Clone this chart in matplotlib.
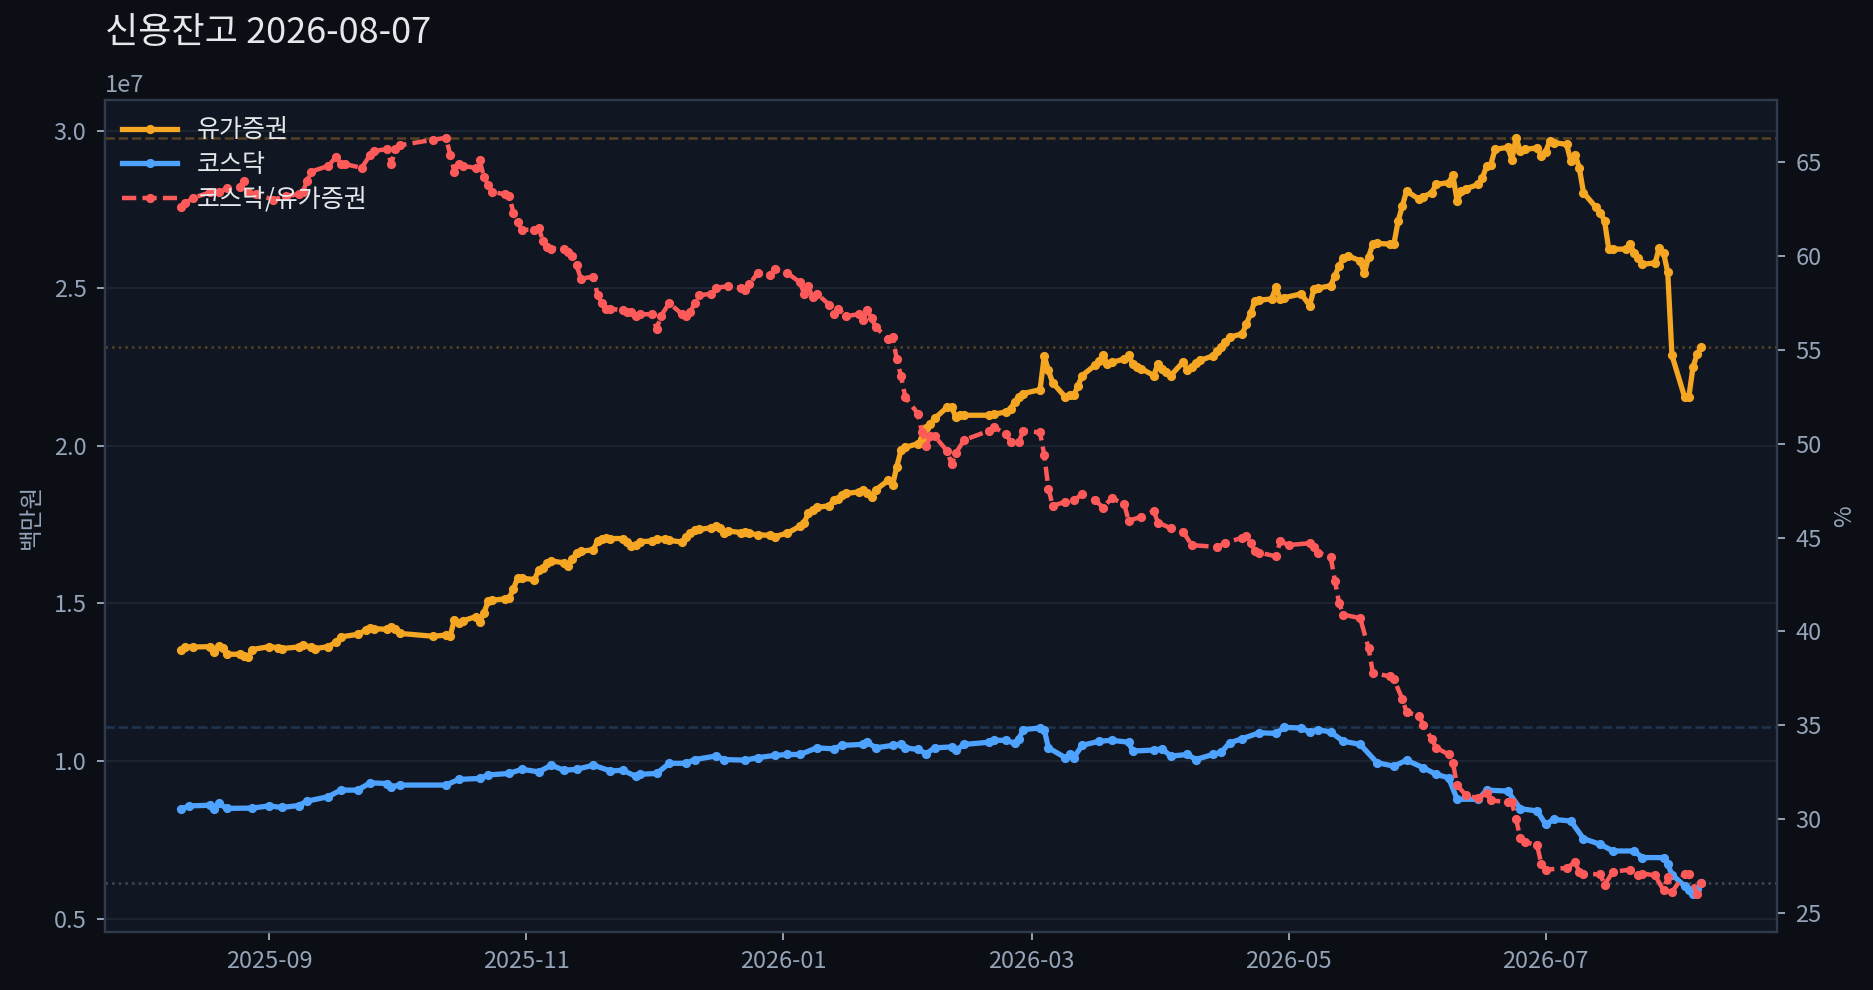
import matplotlib
matplotlib.use("Agg")
import matplotlib.pyplot as plt
import pandas as pd

plt.rcParams['font.family'] = ['Noto Sans CJK KR', 'DejaVu Sans']

# 유가증권 신용잔고 (단위 1e7 백만원)
kospi = [
    ("2025-08-11", 1.352), ("2025-08-12", 1.363), ("2025-08-14", 1.362), ("2025-08-18", 1.363),
    ("2025-08-19", 1.347), ("2025-08-20", 1.365), ("2025-08-21", 1.358), ("2025-08-22", 1.339),
    ("2025-08-25", 1.339), ("2025-08-26", 1.335), ("2025-08-27", 1.329), ("2025-08-28", 1.354),
    ("2025-09-01", 1.363), ("2025-09-03", 1.360), ("2025-09-04", 1.357), ("2025-09-08", 1.362),
    ("2025-09-09", 1.368), ("2025-09-11", 1.362), ("2025-09-12", 1.357), ("2025-09-15", 1.363),
    ("2025-09-17", 1.378), ("2025-09-18", 1.394), ("2025-09-22", 1.402), ("2025-09-24", 1.415),
    ("2025-09-25", 1.423), ("2025-09-26", 1.420), ("2025-09-29", 1.418), ("2025-09-30", 1.426),
    ("2025-10-01", 1.418), ("2025-10-02", 1.405), ("2025-10-10", 1.396), ("2025-10-13", 1.400),
    ("2025-10-14", 1.398), ("2025-10-15", 1.449), ("2025-10-16", 1.437), ("2025-10-17", 1.445),
    ("2025-10-20", 1.458), ("2025-10-21", 1.442), ("2025-10-22", 1.470), ("2025-10-23", 1.507),
    ("2025-10-24", 1.510), ("2025-10-27", 1.515), ("2025-10-28", 1.518), ("2025-10-29", 1.545),
    ("2025-10-30", 1.582), ("2025-10-31", 1.580), ("2025-11-03", 1.576), ("2025-11-04", 1.606),
    ("2025-11-05", 1.612), ("2025-11-06", 1.628), ("2025-11-07", 1.635), ("2025-11-10", 1.629),
    ("2025-11-11", 1.618), ("2025-11-12", 1.640), ("2025-11-13", 1.661), ("2025-11-14", 1.665),
    ("2025-11-17", 1.671), ("2025-11-18", 1.699), ("2025-11-19", 1.706), ("2025-11-20", 1.708),
    ("2025-11-21", 1.706), ("2025-11-24", 1.706), ("2025-11-25", 1.695), ("2025-11-26", 1.682),
    ("2025-11-27", 1.684), ("2025-11-28", 1.696), ("2025-12-01", 1.698), ("2025-12-02", 1.703),
    ("2025-12-04", 1.706), ("2025-12-05", 1.700), ("2025-12-08", 1.695), ("2025-12-09", 1.712),
    ("2025-12-10", 1.722), ("2025-12-11", 1.733), ("2025-12-12", 1.735), ("2025-12-15", 1.740),
    ("2025-12-16", 1.746), ("2025-12-17", 1.738), ("2025-12-18", 1.723), ("2025-12-19", 1.730),
    ("2025-12-22", 1.725), ("2025-12-23", 1.728), ("2025-12-24", 1.722), ("2025-12-26", 1.718),
    ("2025-12-29", 1.716), ("2025-12-30", 1.712), ("2026-01-02", 1.723), ("2026-01-05", 1.745),
    ("2026-01-06", 1.756), ("2026-01-07", 1.786), ("2026-01-08", 1.797), ("2026-01-09", 1.805),
    ("2026-01-12", 1.810), ("2026-01-13", 1.828), ("2026-01-14", 1.830), ("2026-01-15", 1.845),
    ("2026-01-16", 1.849), ("2026-01-19", 1.854), ("2026-01-20", 1.860), ("2026-01-21", 1.850),
    ("2026-01-22", 1.839), ("2026-01-23", 1.860), ("2026-01-26", 1.891), ("2026-01-27", 1.876),
    ("2026-01-28", 1.934), ("2026-01-29", 1.986), ("2026-01-30", 1.995), ("2026-02-02", 2.007),
    ("2026-02-03", 2.023), ("2026-02-04", 2.055), ("2026-02-05", 2.070), ("2026-02-06", 2.087),
    ("2026-02-09", 2.123), ("2026-02-10", 2.123), ("2026-02-11", 2.092), ("2026-02-12", 2.097),
    ("2026-02-13", 2.097), ("2026-02-19", 2.097), ("2026-02-20", 2.100), ("2026-02-23", 2.108),
    ("2026-02-24", 2.118), ("2026-02-25", 2.140), ("2026-02-26", 2.155), ("2026-02-27", 2.166),
    ("2026-03-03", 2.178), ("2026-03-04", 2.284), ("2026-03-05", 2.239), ("2026-03-06", 2.200),
    ("2026-03-09", 2.155), ("2026-03-10", 2.160), ("2026-03-11", 2.160), ("2026-03-12", 2.190),
    ("2026-03-13", 2.223), ("2026-03-16", 2.255), ("2026-03-17", 2.270), ("2026-03-18", 2.287),
    ("2026-03-19", 2.260), ("2026-03-20", 2.265), ("2026-03-23", 2.275), ("2026-03-24", 2.287),
    ("2026-03-25", 2.260), ("2026-03-26", 2.250), ("2026-03-27", 2.245), ("2026-03-30", 2.223),
    ("2026-03-31", 2.260), ("2026-04-01", 2.245), ("2026-04-02", 2.235), ("2026-04-03", 2.223),
    ("2026-04-06", 2.266), ("2026-04-07", 2.239), ("2026-04-08", 2.250), ("2026-04-09", 2.262),
    ("2026-04-10", 2.271), ("2026-04-13", 2.285), ("2026-04-14", 2.300), ("2026-04-15", 2.313),
    ("2026-04-16", 2.330), ("2026-04-17", 2.345), ("2026-04-20", 2.355), ("2026-04-21", 2.387),
    ("2026-04-22", 2.420), ("2026-04-23", 2.460), ("2026-04-24", 2.462), ("2026-04-27", 2.466),
    ("2026-04-28", 2.503), ("2026-04-29", 2.466), ("2026-04-30", 2.470), ("2026-05-04", 2.482),
    ("2026-05-06", 2.445), ("2026-05-07", 2.497), ("2026-05-08", 2.500), ("2026-05-11", 2.508),
    ("2026-05-12", 2.540), ("2026-05-13", 2.570), ("2026-05-14", 2.595), ("2026-05-15", 2.603),
    ("2026-05-18", 2.587), ("2026-05-19", 2.547), ("2026-05-20", 2.600), ("2026-05-21", 2.640),
    ("2026-05-22", 2.642), ("2026-05-25", 2.640), ("2026-05-26", 2.640), ("2026-05-27", 2.713),
    ("2026-05-28", 2.760), ("2026-05-29", 2.808), ("2026-06-01", 2.782), ("2026-06-02", 2.790),
    ("2026-06-04", 2.803), ("2026-06-05", 2.829), ("2026-06-08", 2.835), ("2026-06-09", 2.858),
    ("2026-06-10", 2.777), ("2026-06-11", 2.808), ("2026-06-12", 2.815), ("2026-06-15", 2.829),
    ("2026-06-16", 2.850), ("2026-06-17", 2.887), ("2026-06-18", 2.892), ("2026-06-19", 2.940),
    ("2026-06-22", 2.947), ("2026-06-23", 2.908), ("2026-06-24", 2.977), ("2026-06-25", 2.935),
    ("2026-06-26", 2.940), ("2026-06-29", 2.945), ("2026-06-30", 2.919), ("2026-07-01", 2.933),
    ("2026-07-02", 2.966), ("2026-07-03", 2.962), ("2026-07-06", 2.956), ("2026-07-07", 2.903),
    ("2026-07-08", 2.924), ("2026-07-09", 2.882), ("2026-07-10", 2.803), ("2026-07-13", 2.756),
    ("2026-07-14", 2.740), ("2026-07-15", 2.713), ("2026-07-16", 2.624), ("2026-07-17", 2.624),
    ("2026-07-20", 2.624), ("2026-07-21", 2.640), ("2026-07-22", 2.613), ("2026-07-23", 2.595),
    ("2026-07-24", 2.576), ("2026-07-27", 2.580), ("2026-07-28", 2.629), ("2026-07-29", 2.613),
    ("2026-07-30", 2.550), ("2026-07-31", 2.287), ("2026-08-03", 2.155), ("2026-08-04", 2.155),
    ("2026-08-05", 2.250), ("2026-08-06", 2.292), ("2026-08-07", 2.313),
]

# 코스닥 신용잔고 (단위 1e7 백만원)
kosdaq = [
    ("2025-08-11", 0.847), ("2025-08-13", 0.858), ("2025-08-18", 0.860), ("2025-08-19", 0.849),
    ("2025-08-20", 0.866), ("2025-08-22", 0.850), ("2025-08-28", 0.851), ("2025-09-01", 0.858),
    ("2025-09-04", 0.853), ("2025-09-08", 0.859), ("2025-09-10", 0.873), ("2025-09-15", 0.887),
    ("2025-09-18", 0.908), ("2025-09-22", 0.908), ("2025-09-25", 0.931), ("2025-09-29", 0.929),
    ("2025-09-30", 0.919), ("2025-10-02", 0.924), ("2025-10-13", 0.924), ("2025-10-16", 0.942),
    ("2025-10-21", 0.945), ("2025-10-23", 0.956), ("2025-10-28", 0.961), ("2025-10-31", 0.974),
    ("2025-11-04", 0.966), ("2025-11-07", 0.987), ("2025-11-10", 0.971), ("2025-11-13", 0.974),
    ("2025-11-17", 0.987), ("2025-11-21", 0.969), ("2025-11-24", 0.971), ("2025-11-27", 0.952),
    ("2025-11-28", 0.958), ("2025-12-02", 0.961), ("2025-12-05", 0.993), ("2025-12-09", 0.993),
    ("2025-12-11", 1.005), ("2025-12-16", 1.016), ("2025-12-18", 1.005), ("2025-12-23", 1.003),
    ("2025-12-26", 1.011), ("2025-12-30", 1.018), ("2026-01-02", 1.021), ("2026-01-05", 1.021),
    ("2026-01-09", 1.042), ("2026-01-13", 1.039), ("2026-01-15", 1.050), ("2026-01-20", 1.053),
    ("2026-01-21", 1.060), ("2026-01-23", 1.042), ("2026-01-27", 1.050), ("2026-01-29", 1.053),
    ("2026-01-30", 1.042), ("2026-02-02", 1.037), ("2026-02-04", 1.024), ("2026-02-06", 1.042),
    ("2026-02-10", 1.045), ("2026-02-11", 1.034), ("2026-02-13", 1.053), ("2026-02-19", 1.060),
    ("2026-02-20", 1.066), ("2026-02-23", 1.066), ("2026-02-25", 1.056), ("2026-02-26", 1.071),
    ("2026-02-27", 1.100), ("2026-03-03", 1.105), ("2026-03-04", 1.100), ("2026-03-05", 1.042),
    ("2026-03-09", 1.011), ("2026-03-10", 1.021), ("2026-03-11", 1.011), ("2026-03-13", 1.050),
    ("2026-03-17", 1.063), ("2026-03-20", 1.066), ("2026-03-24", 1.060), ("2026-03-25", 1.032),
    ("2026-03-30", 1.035), ("2026-04-01", 1.039), ("2026-04-03", 1.016), ("2026-04-07", 1.021),
    ("2026-04-09", 1.005), ("2026-04-13", 1.021), ("2026-04-15", 1.028), ("2026-04-17", 1.058),
    ("2026-04-20", 1.071), ("2026-04-24", 1.090), ("2026-04-28", 1.088), ("2026-04-30", 1.107),
    ("2026-05-04", 1.105), ("2026-05-06", 1.092), ("2026-05-08", 1.100), ("2026-05-11", 1.092),
    ("2026-05-14", 1.063), ("2026-05-18", 1.053), ("2026-05-22", 0.995), ("2026-05-26", 0.984),
    ("2026-05-29", 1.003), ("2026-06-02", 0.979), ("2026-06-05", 0.958), ("2026-06-08", 0.947),
    ("2026-06-10", 0.879), ("2026-06-15", 0.879), ("2026-06-17", 0.908), ("2026-06-22", 0.905),
    ("2026-06-25", 0.849), ("2026-06-29", 0.842), ("2026-07-01", 0.800), ("2026-07-03", 0.815),
    ("2026-07-07", 0.810), ("2026-07-10", 0.754), ("2026-07-14", 0.736), ("2026-07-17", 0.715),
    ("2026-07-22", 0.715), ("2026-07-24", 0.694), ("2026-07-29", 0.694), ("2026-07-30", 0.673),
    ("2026-07-31", 0.640), ("2026-08-03", 0.604), ("2026-08-04", 0.590), ("2026-08-05", 0.578),
    ("2026-08-06", 0.595), ("2026-08-07", 0.613),
]

# 코스닥/유가증권 비율 (%)
ratio = [
    ("2025-08-11", 62.6), ("2025-08-12", 62.8), ("2025-08-14", 63.1), ("2025-08-18", 63.4),
    ("2025-08-20", 63.4), ("2025-08-22", 63.6), ("2025-08-25", 63.7), ("2025-08-26", 64.0),
    ("2025-08-27", 63.4), ("2025-08-29", 63.3), ("2025-09-02", 63.0), ("2025-09-05", 63.2),
    ("2025-09-08", 63.3), ("2025-09-09", 63.4), ("2025-09-10", 64.0), ("2025-09-11", 64.5),
    ("2025-09-15", 64.8), ("2025-09-17", 65.3), ("2025-09-18", 64.9), ("2025-09-19", 64.9),
    ("2025-09-23", 64.7), ("2025-09-25", 65.4), ("2025-09-26", 65.6), ("2025-09-29", 65.7),
    ("2025-09-30", 64.9), ("2025-10-01", 65.7), ("2025-10-02", 65.9), ("2025-10-10", 66.2),
    ("2025-10-13", 66.3), ("2025-10-14", 65.4), ("2025-10-15", 64.5), ("2025-10-16", 64.9),
    ("2025-10-17", 64.8), ("2025-10-20", 64.7), ("2025-10-21", 65.1), ("2025-10-22", 64.2),
    ("2025-10-23", 63.8), ("2025-10-24", 63.4), ("2025-10-27", 63.3), ("2025-10-28", 63.2),
    ("2025-10-29", 62.3), ("2025-10-30", 61.8), ("2025-10-31", 61.4), ("2025-11-03", 61.4),
    ("2025-11-04", 61.5), ("2025-11-05", 60.8), ("2025-11-06", 60.5), ("2025-11-07", 60.4),
    ("2025-11-10", 60.4), ("2025-11-11", 60.2), ("2025-11-12", 60.0), ("2025-11-13", 59.5),
    ("2025-11-14", 58.8), ("2025-11-17", 58.9), ("2025-11-18", 57.9), ("2025-11-19", 57.5),
    ("2025-11-20", 57.2), ("2025-11-21", 57.2), ("2025-11-24", 57.1), ("2025-11-25", 57.0),
    ("2025-11-26", 57.0), ("2025-11-27", 56.8), ("2025-11-28", 56.9), ("2025-12-01", 56.9),
    ("2025-12-02", 56.1), ("2025-12-03", 56.8), ("2025-12-05", 57.5), ("2025-12-08", 56.9),
    ("2025-12-09", 56.8), ("2025-12-10", 57.0), ("2025-12-11", 57.5), ("2025-12-12", 57.9),
    ("2025-12-15", 58.0), ("2025-12-16", 58.3), ("2025-12-19", 58.4), ("2025-12-22", 58.3),
    ("2025-12-23", 58.2), ("2025-12-24", 58.5), ("2025-12-26", 59.1), ("2025-12-29", 59.0),
    ("2025-12-30", 59.3), ("2026-01-02", 59.1), ("2026-01-05", 58.6), ("2026-01-06", 58.0),
    ("2026-01-07", 58.4), ("2026-01-08", 57.8), ("2026-01-09", 58.0), ("2026-01-12", 57.4),
    ("2026-01-13", 56.9), ("2026-01-14", 57.2), ("2026-01-16", 56.8), ("2026-01-19", 56.9),
    ("2026-01-20", 56.6), ("2026-01-21", 57.1), ("2026-01-22", 56.7), ("2026-01-23", 56.2),
    ("2026-01-26", 55.6), ("2026-01-27", 55.7), ("2026-01-28", 54.5), ("2026-01-29", 53.6),
    ("2026-01-30", 52.5), ("2026-02-02", 51.6), ("2026-02-03", 50.6), ("2026-02-04", 49.9),
    ("2026-02-05", 50.4), ("2026-02-06", 50.4), ("2026-02-09", 49.6), ("2026-02-10", 48.9),
    ("2026-02-11", 49.5), ("2026-02-13", 50.2), ("2026-02-19", 50.7), ("2026-02-20", 50.9),
    ("2026-02-23", 50.5), ("2026-02-24", 50.1), ("2026-02-26", 50.1), ("2026-02-27", 50.7),
    ("2026-03-03", 50.6), ("2026-03-04", 49.4), ("2026-03-05", 47.6), ("2026-03-06", 46.7),
    ("2026-03-09", 46.9), ("2026-03-11", 47.0), ("2026-03-13", 47.3), ("2026-03-16", 47.0),
    ("2026-03-18", 46.6), ("2026-03-20", 47.1), ("2026-03-23", 46.8), ("2026-03-24", 45.9),
    ("2026-03-27", 46.1), ("2026-03-30", 46.4), ("2026-03-31", 45.8), ("2026-04-03", 45.5),
    ("2026-04-06", 45.3), ("2026-04-08", 44.6), ("2026-04-14", 44.5), ("2026-04-16", 44.7),
    ("2026-04-20", 45.0), ("2026-04-21", 45.1), ("2026-04-22", 44.7), ("2026-04-23", 44.3),
    ("2026-04-24", 44.2), ("2026-04-28", 44.0), ("2026-04-29", 44.8), ("2026-05-01", 44.6),
    ("2026-05-06", 44.7), ("2026-05-07", 44.5), ("2026-05-08", 44.2), ("2026-05-11", 43.95),
    ("2026-05-12", 42.7), ("2026-05-13", 41.5), ("2026-05-14", 40.9), ("2026-05-18", 40.7),
    ("2026-05-20", 39.1), ("2026-05-21", 37.8), ("2026-05-25", 37.6), ("2026-05-26", 37.45),
    ("2026-05-28", 36.4), ("2026-05-29", 35.7), ("2026-06-01", 35.5), ("2026-06-02", 35.0),
    ("2026-06-04", 34.25), ("2026-06-05", 33.8), ("2026-06-08", 33.45), ("2026-06-09", 33.0),
    ("2026-06-10", 31.8), ("2026-06-12", 31.3), ("2026-06-15", 31.1), ("2026-06-17", 31.4),
    ("2026-06-18", 31.0), ("2026-06-22", 30.9), ("2026-06-23", 30.9), ("2026-06-24", 30.0),
    ("2026-06-25", 29.0), ("2026-06-26", 28.8), ("2026-06-29", 28.6), ("2026-06-30", 27.6),
    ("2026-07-01", 27.3), ("2026-07-06", 27.4), ("2026-07-08", 27.7), ("2026-07-09", 27.2),
    ("2026-07-10", 27.1), ("2026-07-14", 27.05), ("2026-07-15", 26.5), ("2026-07-17", 27.2),
    ("2026-07-21", 27.3), ("2026-07-23", 27.0), ("2026-07-24", 27.1), ("2026-07-27", 27.0),
    ("2026-07-29", 26.2), ("2026-07-30", 26.9), ("2026-07-31", 26.1), ("2026-08-03", 27.1),
    ("2026-08-04", 27.1), ("2026-08-06", 26.0), ("2026-08-07", 26.6),
]

title = "신용잔고 2026-08-07"
labels = ["유가증권", "코스닥", "코스닥/유가증권"]

BG = "#0b0e14"
AXBG = "#111722"
SPINE = "#2f3b4d"
GRID = "#1d2532"
TXT = "#94a3b8"
ORANGE = "#f5a623"
BLUE = "#4da3ff"
RED = "#ff5a5a"


def to_frame(pairs, scale=1.0):
    df = pd.DataFrame(pairs, columns=["date", "value"])
    df["date"] = pd.to_datetime(df["date"])
    df["value"] = df["value"] * scale
    return df


kp = to_frame(kospi, 1e7)
kq = to_frame(kosdaq, 1e7)
rt = to_frame(ratio)

fig = plt.figure(figsize=(9.37, 4.95), dpi=200, facecolor=BG)
ax = fig.add_axes([0.0558, 0.0586, 0.8927, 0.8404])
ax.set_facecolor(AXBG)
ax2 = ax.twinx()

l1, = ax.plot(kp["date"], kp["value"], color=ORANGE, lw=1.9, marker="o", ms=2.3, label=labels[0])
l2, = ax.plot(kq["date"], kq["value"], color=BLUE, lw=1.9, marker="o", ms=2.3, label=labels[1])
l3, = ax2.plot(rt["date"], rt["value"], color=RED, lw=1.6, ls="--", dashes=(3.2, 1.4),
               marker="o", ms=2.3, label=labels[2])

# 최대값(파선) / 최근값(점선)
ax.axhline(kp["value"].max(), color=ORANGE, alpha=0.3, ls="--", lw=0.9)
ax.axhline(kp["value"].iloc[-1], color=ORANGE, alpha=0.3, ls=":", lw=0.9)
ax.axhline(kq["value"].max(), color=BLUE, alpha=0.22, ls="--", lw=0.9)
ax.axhline(kq["value"].iloc[-1], color="#8a94a6", alpha=0.4, ls=":", lw=0.9)

ax.grid(axis="y", color=GRID, lw=0.7)
ax.set_axisbelow(True)

for a in (ax, ax2):
    for s in a.spines.values():
        s.set_color(SPINE)
        s.set_linewidth(0.8)
    a.tick_params(colors=TXT, labelsize=8.5, length=3, width=0.7)

ax.yaxis.get_offset_text().set_color(TXT)
ax.yaxis.get_offset_text().set_fontsize(8.5)
ax.set_ylabel("백만원", color=TXT, fontsize=8.5)
ax2.set_ylabel("%", color=TXT, fontsize=8.5)

fig.text(0.0558, 0.967, title, color="#e5e7eb", fontsize=13, va="center", ha="left")

leg = ax2.legend(handles=[l1, l2, l3], loc="upper left", frameon=False, fontsize=9,
                 labelcolor="#e5e7eb", borderaxespad=0.3, handlelength=2.2, labelspacing=0.35)

fig.savefig("out.png", dpi=200, facecolor=BG)
